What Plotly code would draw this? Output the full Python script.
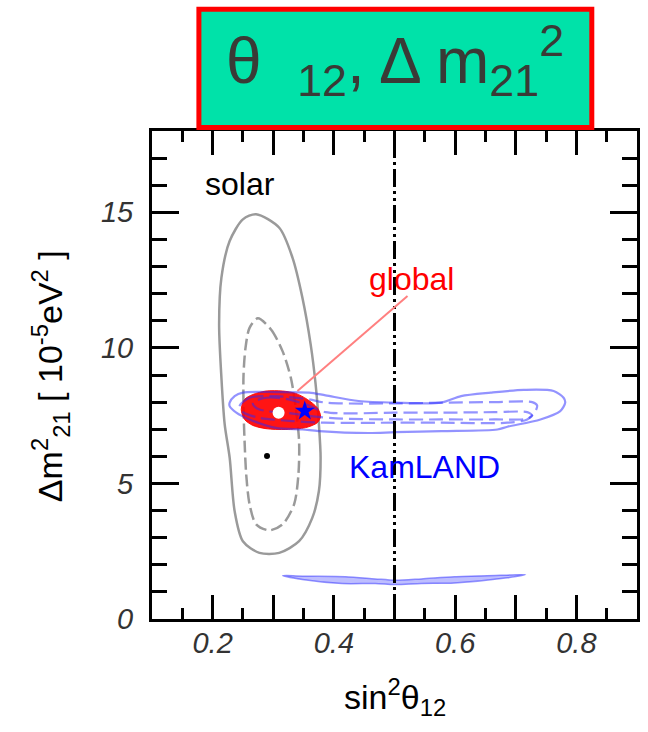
import plotly.graph_objects as go

FONT = "Liberation Sans"

# ---------------- data ----------------
solar_outer_x = [0.2717, 0.3099, 0.3317, 0.3481, 0.3617, 0.3699, 0.3753, 0.3781, 0.3753, 0.3644,
                 0.3426, 0.3099, 0.2772, 0.2499, 0.2363, 0.2281, 0.2199, 0.2145, 0.2107, 0.2145,
                 0.2281, 0.2499]
solar_outer_y = [14.93, 14.43, 13.33, 11.85, 10.13, 8.65, 7.18, 5.95, 4.72, 3.73,
                 2.87, 2.44, 2.44, 2.87, 3.98, 5.95, 7.18, 8.90, 10.87, 12.59,
                 13.94, 14.74]

solar_inner_x = [0.2745, 0.2963, 0.3153, 0.3290, 0.3371, 0.3426, 0.3415, 0.3344, 0.3153, 0.2936,
                 0.2718, 0.2609, 0.2554, 0.2527, 0.2510, 0.2510, 0.2543, 0.2609]
solar_inner_y = [11.09, 10.68, 9.88, 8.90, 7.79, 6.56, 5.33, 4.23, 3.49, 3.27,
                 3.49, 4.23, 5.33, 6.56, 7.79, 9.02, 10.01, 10.74]

global_x = [0.2472, 0.2527, 0.2663, 0.2881, 0.3153, 0.3372, 0.3562, 0.3726, 0.3781, 0.3726,
            0.3536, 0.3209, 0.2881, 0.2663, 0.2527]
global_y = [7.73, 8.10, 8.28, 8.41, 8.41, 8.32, 8.10, 7.79, 7.48, 7.24,
            7.06, 6.99, 7.02, 7.14, 7.36]

kam_outer_x = [0.2281, 0.2363, 0.2499, 0.3045, 0.3592, 0.3862, 0.4408, 0.5008, 0.5771, 0.6098,
               0.6589, 0.7134, 0.7625, 0.7789, 0.7816, 0.7734, 0.7407, 0.6862, 0.6698, 0.5771,
               0.5008, 0.4571, 0.3753, 0.3481, 0.3045, 0.2609, 0.2391, 0.2281]
kam_outer_y = [7.98, 8.22, 8.35, 8.37, 8.35, 8.25, 8.04, 7.98, 7.98, 8.22,
               8.35, 8.45, 8.41, 8.16, 7.98, 7.67, 7.36, 7.09, 6.99, 6.93,
               6.89, 6.86, 6.93, 6.99, 7.05, 7.36, 7.61, 7.85]

kam_mid_x = [0.2445, 0.2609, 0.3045, 0.3592, 0.3862, 0.5008, 0.5771, 0.6589, 0.7271, 0.7352,
             0.7325, 0.7189, 0.6862, 0.5771, 0.5008, 0.3835, 0.3317, 0.2772, 0.2499]
kam_mid_y = [7.85, 8.16, 8.22, 8.10, 7.98, 7.95, 7.98, 8.00, 8.00, 7.88,
             7.67, 7.36, 7.24, 7.24, 7.24, 7.24, 7.30, 7.42, 7.63]

kam_inner_x = [0.2663, 0.2881, 0.3208, 0.3535, 0.3862, 0.5008, 0.5771, 0.6644, 0.7189, 0.7271,
               0.7189, 0.6644, 0.5771, 0.5008, 0.4135, 0.3592, 0.3208, 0.2881, 0.2718]
kam_inner_y = [7.98, 8.16, 8.12, 7.92, 7.63, 7.61, 7.61, 7.63, 7.63, 7.51,
               7.39, 7.36, 7.36, 7.36, 7.39, 7.49, 7.61, 7.67, 7.79]

kam_low_x = [0.3154, 0.3481, 0.4190, 0.4681, 0.5008, 0.5444, 0.5989, 0.6753, 0.7162, 0.6862,
             0.5989, 0.5444, 0.5008, 0.4681, 0.4135, 0.3481]
kam_low_y = [1.605, 1.58, 1.56, 1.48, 1.43, 1.48, 1.56, 1.61, 1.64, 1.52,
             1.33, 1.31, 1.27, 1.31, 1.31, 1.46]

solar_best = ([0.2897], [6.01])
global_best = ([0.3088], [7.61])
kam_best = ([0.352], [7.67])

pointer_x = [0.5215, 0.3399]
pointer_y = [11.91, 8.41]

maxmix_x = [0.5, 0.5]
maxmix_y = [0.0, 18.0]

x_range = [0.1, 0.9]
y_range = [0.0, 18.0]
x_tickvals = [0.2, 0.3, 0.4, 0.5, 0.6, 0.7, 0.8]
x_ticktext = ["0.2", "", "0.4", "", "0.6", "", "0.8"]
y_tickvals = [0, 5, 10, 15]
y_ticktext = ["0", "5", "10", "15"]

labels = [("solar", 0.2445, 16.05, "black"),
          ("global", 0.528, 12.55, "#ff0000"),
          ("KamLAND", 0.550, 5.60, "#0000ff")]

# ---------------- figure ----------------
fig = go.Figure()


def closed(v):
    return list(v) + [v[0]]


def contour(x, y, color, width, dash="solid", fill=None, fillcolor=None):
    fig.add_trace(go.Scatter(
        x=closed(x), y=closed(y), mode="lines",
        line=dict(color=color, width=width, dash=dash, shape="spline", smoothing=0.8),
        fill=fill, fillcolor=fillcolor, hoverinfo="skip", showlegend=False))


GRAY = "#9a9a9a"
KBLUE = "rgba(40,40,255,0.5)"

contour(solar_outer_x, solar_outer_y, GRAY, 2.5)
contour(solar_inner_x, solar_inner_y, GRAY, 2.5, dash="12px,5px")
contour(global_x, global_y, "rgba(255,0,0,0.9)", 1, fill="toself", fillcolor="rgba(255,0,0,0.92)")
contour(kam_outer_x, kam_outer_y, KBLUE, 2.2)
contour(kam_mid_x, kam_mid_y, KBLUE, 2.2, dash="14px,6px")
contour(kam_inner_x, kam_inner_y, KBLUE, 2.2, dash="14px,6px")
contour(kam_low_x, kam_low_y, "rgba(60,60,255,0.55)", 1.5, fill="toself",
        fillcolor="rgba(110,110,255,0.45)")

# maximal mixing line
fig.add_trace(go.Scatter(x=maxmix_x, y=maxmix_y, mode="lines",
                         line=dict(color="black", width=3, dash="18px,4px,3px,4px,3px,4px"),
                         hoverinfo="skip", showlegend=False))
# pointer line to global region
fig.add_trace(go.Scatter(x=pointer_x, y=pointer_y, mode="lines",
                         line=dict(color="#ff8080", width=2),
                         hoverinfo="skip", showlegend=False))
# best fit points
fig.add_trace(go.Scatter(x=solar_best[0], y=solar_best[1], mode="markers",
                         marker=dict(color="black", size=6, symbol="circle"),
                         hoverinfo="skip", showlegend=False))
fig.add_trace(go.Scatter(x=global_best[0], y=global_best[1], mode="markers",
                         marker=dict(color="white", size=12, symbol="circle"),
                         hoverinfo="skip", showlegend=False))
fig.add_trace(go.Scatter(x=kam_best[0], y=kam_best[1], mode="markers",
                         marker=dict(color="#0000ff", size=15, symbol="star"),
                         hoverinfo="skip", showlegend=False))

for txt, lx, ly, col in labels:
    fig.add_annotation(x=lx, y=ly, xref="x", yref="y", text=txt, showarrow=False,
                       xanchor="center", yanchor="middle",
                       font=dict(family=FONT, size=32, color=col))

tickfont = dict(family=FONT, size=29, color="#333333", style="italic")

fig.update_xaxes(range=x_range, tickmode="array", tickvals=x_tickvals, ticktext=x_ticktext,
                 ticks="inside", ticklen=24, tickwidth=3, tickcolor="black",
                 minor=dict(tickmode="linear", tick0=0, dtick=0.05, ticks="inside",
                            ticklen=11, tickwidth=3, tickcolor="black"),
                 showline=True, linewidth=3, linecolor="black", mirror="ticks",
                 showgrid=False, zeroline=False, tickfont=tickfont, ticklabelstandoff=-4)
fig.update_yaxes(range=y_range, tickmode="array", tickvals=y_tickvals, ticktext=y_ticktext,
                 ticks="inside", ticklen=27, tickwidth=3, tickcolor="black",
                 minor=dict(tickmode="linear", tick0=0, dtick=1, ticks="inside",
                            ticklen=15, tickwidth=3, tickcolor="black"),
                 showline=True, linewidth=3, linecolor="black", mirror="ticks",
                 showgrid=False, zeroline=False, tickfont=tickfont, ticklabelstandoff=10)

# axis titles
fig.add_annotation(x=0.5, y=-0.16, xref="paper", yref="paper",
                   text="sin<sup>2</sup>θ<sub>12</sub>", showarrow=False,
                   xanchor="center", yanchor="middle",
                   font=dict(family=FONT, size=34, color="black"))
fig.add_annotation(x=-0.21, y=0.498, xref="paper", yref="paper",
                   text="Δm<sup>2</sup><sub>21</sub> [ 10<sup>-5</sup>eV<sup>2</sup> ]",
                   showarrow=False, textangle=-90, xanchor="center", yanchor="middle",
                   font=dict(family=FONT, size=34, color="black"))

# title box
fig.add_shape(type="rect", xref="paper", yref="paper", x0=0.0967, x1=0.9068, y0=1.0072, y1=1.2496,
              fillcolor="#00E2A9", line=dict(color="#ff0000", width=5), layer="above")
fig.add_annotation(x=0.502, y=1.145, xref="paper", yref="paper",
                   text="θ&nbsp;&nbsp;<sub>12</sub>, Δ m<sub>21</sub><sup>2</sup>",
                   showarrow=False, xanchor="center", yanchor="middle",
                   font=dict(family=FONT, size=64, color="#3a3a36"))

fig.update_layout(width=648, height=732, margin=dict(l=152, r=8, t=131, b=113),
                  paper_bgcolor="white", plot_bgcolor="white", showlegend=False)

fig.write_html("out.html")
